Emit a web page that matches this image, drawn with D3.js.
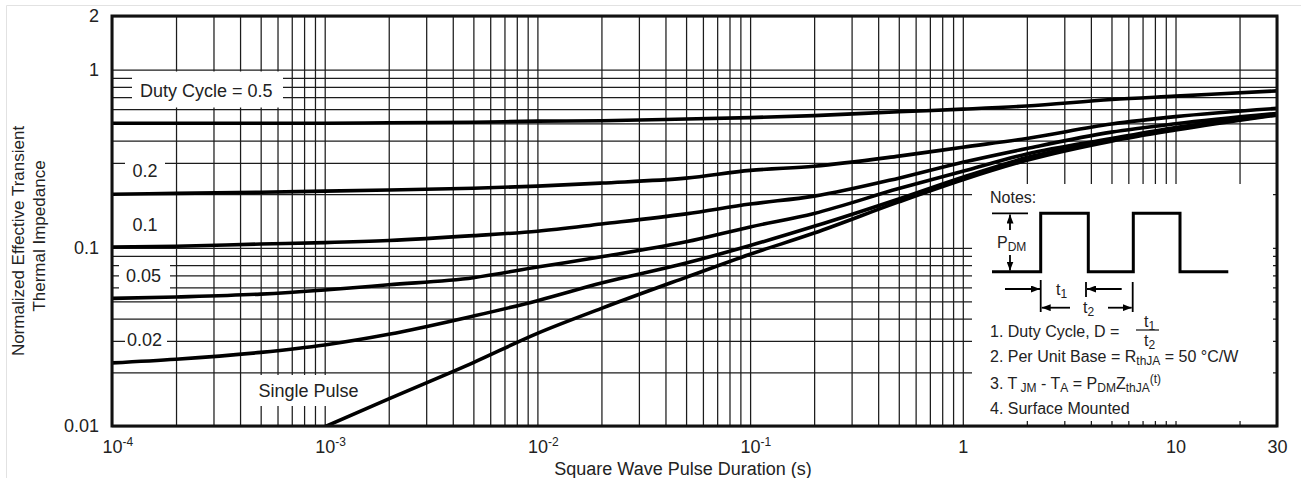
<!DOCTYPE html>
<html>
<head>
<meta charset="utf-8">
<script src="https://cdn.jsdelivr.net/npm/d3@7"></script>
<style>
  body { margin: 0; background: #fff; }
  svg text, svg tspan { font-family: "Liberation Sans", Arial, Helvetica, sans-serif; fill: #222; white-space: pre; }
</style>
</head>
<body>
<svg id="chart" width="1301" height="478"></svg>
<script>
// Pulse durations (s) read along the x axis
const pulseTimes = [1e-4, 2e-4, 5e-4, 1e-3, 2e-3, 5e-3, 1e-2, 2e-2, 5e-2, 0.1, 0.2, 0.5, 1, 2, 5, 10, 30];
// Normalized transient thermal impedance for each duty cycle
const duty05 = [0.50, 0.50, 0.50, 0.50, 0.503, 0.507, 0.514, 0.517, 0.528, 0.538, 0.552, 0.58, 0.60, 0.625, 0.68, 0.71, 0.76];
const duty02 = [0.20, 0.202, 0.205, 0.208, 0.211, 0.216, 0.222, 0.231, 0.246, 0.272, 0.287, 0.327, 0.367, 0.411, 0.495, 0.545, 0.606];
const duty01 = [0.101, 0.102, 0.105, 0.107, 0.110, 0.117, 0.124, 0.136, 0.155, 0.176, 0.195, 0.246, 0.302, 0.361, 0.446, 0.497, 0.568];
const duty005 = [0.052, 0.053, 0.055, 0.058, 0.062, 0.068, 0.078, 0.089, 0.108, 0.131, 0.156, 0.215, 0.269, 0.336, 0.41, 0.473, 0.563];
const duty002 = [0.0226, 0.0237, 0.0259, 0.0285, 0.0327, 0.0414, 0.0505, 0.0634, 0.0821, 0.103, 0.132, 0.188, 0.249, 0.321, 0.402, 0.464, 0.559];
const singleTimes = [1e-3, 2e-3, 5e-3, 1e-2, 2e-2, 5e-2, 0.1, 0.2, 0.5, 1, 2, 5, 10, 30];
const singlePulse = [0.0099, 0.0142, 0.0227, 0.0331, 0.0457, 0.0683, 0.092, 0.121, 0.181, 0.241, 0.31, 0.397, 0.458, 0.556];

const xTickValues = [1e-4, 1e-3, 1e-2, 1e-1, 1, 10, 30];
const xTickBases = ['10', '10', '10', '10', '1', '10', '30'];
const xTickExps = ['-4', '-3', '-2', '-1', '', '', ''];
const yTickValues = [0.01, 0.1, 1, 2];
const yTickLabels = ['0.01', '0.1', '1', '2'];

const svg = d3.select('#chart');
const margin = { top: 16, right: 24, bottom: 52, left: 112 };
const width = 1301 - margin.left - margin.right;
const height = 478 - margin.top - margin.bottom;

// faint frame of the original scan
svg.append('path').attr('d', 'M6.5,478V5.5H1301').attr('fill', 'none').attr('stroke', '#e2e2e2');

const g = svg.append('g').attr('transform', `translate(${margin.left},${margin.top})`);

const x = d3.scaleLog().domain([1e-4, 30]).range([0, width]);
const y = d3.scaleLog().domain([0.01, 2]).range([height, 0]);

// Grid
g.append('g')
  .attr('transform', `translate(0,${height})`)
  .call(d3.axisBottom(x).tickValues(x.ticks()).tickSize(-height).tickFormat(''))
  .call(s => s.select('.domain').remove())
  .selectAll('line').attr('stroke', '#1c1c1c').attr('stroke-width', 1.25);

g.append('g')
  .call(d3.axisLeft(y).tickValues(y.ticks()).tickSize(-width).tickFormat(''))
  .call(s => s.select('.domain').remove())
  .selectAll('line').attr('stroke', '#1c1c1c').attr('stroke-width', 1.25);

// white patches behind labels and the notes block
const patches = [
  [20, 55.5, 151, 36],
  [13, 130, 40, 40],
  [13, 196, 40, 24],
  [7, 243, 51, 34],
  [13, 311, 42, 27],
  [138, 359, 116, 31],
  [860, 168, 301, 237]
];
g.selectAll('.patch').data(patches).enter().append('rect')
  .attr('x', d => d[0]).attr('y', d => d[1]).attr('width', d => d[2]).attr('height', d => d[3])
  .attr('fill', '#fff');

// Curves
g.append('clipPath').attr('id', 'plot-clip')
  .append('rect').attr('width', width).attr('height', height);

const line = d3.line()
  .x(d => x(d[0]))
  .y(d => y(d[1]))
  .curve(d3.curveMonotoneX);

const series = [duty05, duty02, duty01, duty005, duty002].map(vals => pulseTimes.map((t, i) => [t, vals[i]]));
series.push(singleTimes.map((t, i) => [t, singlePulse[i]]));

g.append('g').attr('clip-path', 'url(#plot-clip)')
  .selectAll('path').data(series).enter().append('path')
  .attr('d', line)
  .attr('fill', 'none')
  .attr('stroke', '#000')
  .attr('stroke-width', 3.6)
  .attr('stroke-linejoin', 'round');

// Frame
g.append('rect').attr('width', width).attr('height', height)
  .attr('fill', 'none').attr('stroke', '#111').attr('stroke-width', 3);

// Axes labels
const yAxis = g.append('g')
  .call(d3.axisLeft(y).tickValues(yTickValues).tickFormat((d, i) => yTickLabels[i]).tickSize(0).tickPadding(13));
yAxis.select('.domain').remove();
yAxis.selectAll('text').style('font-size', '18px').attr('fill', '#222');

const xAxis = g.append('g')
  .attr('transform', `translate(0,${height})`)
  .call(d3.axisBottom(x).tickValues(xTickValues).tickFormat('').tickSize(0).tickPadding(14));
xAxis.select('.domain').remove();
xAxis.selectAll('.tick text').each(function(d, i) {
  const t = d3.select(this).attr('text-anchor', 'start').style('font-size', '18px').attr('fill', '#222');
  const base = t.append('tspan').text(xTickBases[i]);
  if (xTickExps[i]) t.append('tspan').attr('dy', -7).style('font-size', '12px').text(xTickExps[i]);
  t.attr('x', -base.node().getComputedTextLength() / 2);
});

svg.append('text')
  .attr('x', 683).attr('y', 474.5)
  .attr('text-anchor', 'middle')
  .style('font-size', '18px')
  .text('Square Wave Pulse Duration (s)');

svg.append('text')
  .attr('transform', 'translate(24,241) rotate(-90)')
  .attr('text-anchor', 'middle')
  .style('font-size', '17px')
  .text('Normalized Effective Transient');
svg.append('text')
  .attr('transform', 'translate(45,236) rotate(-90)')
  .attr('text-anchor', 'middle')
  .style('font-size', '17px')
  .text('Thermal Impedance');

// Curve names
const curveNames = [
  ['Duty Cycle = 0.5', 140, 96.5],
  ['0.2', 132.5, 177],
  ['0.1', 132.5, 231],
  ['0.05', 126, 282],
  ['0.02', 127, 345.5],
  ['Single Pulse', 258.5, 397]
];
svg.selectAll('.curve-name').data(curveNames).enter().append('text')
  .attr('x', d => d[1]).attr('y', d => d[2])
  .style('font-size', '18px')
  .text(d => d[0]);

// Notes
function richText(x0, y0, parts, size) {
  const t = svg.append('text').attr('x', x0).attr('y', y0).style('font-size', size + 'px').attr('fill', '#222');
  let shift = 0;
  parts.forEach(([s, k]) => {
    const target = k === 'sub' ? 3 : k === 'sup' ? -6 : 0;
    t.append('tspan').attr('dy', target - shift).attr('fill', '#222')
      .style('font-size', (k ? 12 : size) + 'px').text(s);
    shift = target;
  });
  return t;
}

svg.append('text').attr('x', 990).attr('y', 203).style('font-size', '16px').text('Notes:');

const wave = [[992, 271.7], [1040.7, 271.7], [1040.7, 213.3], [1088.3, 213.3], [1088.3, 271.7],
  [1133.3, 271.7], [1133.3, 213.3], [1180, 213.3], [1180, 271.7], [1228.3, 271.7]];
svg.append('path').attr('d', d3.line()(wave))
  .attr('fill', 'none').attr('stroke', '#000').attr('stroke-width', 3).attr('stroke-linejoin', 'miter');

svg.append('defs').append('marker')
  .attr('id', 'head').attr('markerUnits', 'userSpaceOnUse')
  .attr('markerWidth', 9).attr('markerHeight', 7).attr('refX', 9).attr('refY', 3.5).attr('orient', 'auto')
  .append('path').attr('d', 'M0,0L9,3.5L0,7Z').attr('fill', '#000');

const guides = [
  [992, 213.3, 1028, 213.3, false],
  [1010, 230, 1010, 214.5, true],
  [1010, 255, 1010, 270.5, true],
  [1005, 289, 1040, 289, true],
  [1040.7, 280, 1040.7, 312, false],
  [1086, 282, 1086, 297, false],
  [1121.7, 289, 1087, 289, true],
  [1070, 307.7, 1041.7, 307.7, true],
  [1108, 307.7, 1131.7, 307.7, true],
  [1132.7, 282, 1132.7, 312, false]
];
svg.selectAll('.guide').data(guides).enter().append('line')
  .attr('x1', d => d[0]).attr('y1', d => d[1]).attr('x2', d => d[2]).attr('y2', d => d[3])
  .attr('stroke', '#000').attr('stroke-width', 1.8)
  .attr('marker-end', d => d[4] ? 'url(#head)' : null);

richText(997, 248, [['P', ''], ['DM', 'sub']], 16);
richText(1056, 295, [['t', ''], ['1', 'sub']], 16);
richText(1083, 313, [['t', ''], ['2', 'sub']], 16);

richText(990, 337, [['1. Duty Cycle, D =', '']], 16);
richText(1144, 326.5, [['t', ''], ['1', 'sub']], 16);
svg.append('line').attr('x1', 1136).attr('x2', 1159).attr('y1', 330).attr('y2', 330)
  .attr('stroke', '#222').attr('stroke-width', 1.3);
richText(1144, 346, [['t', ''], ['2', 'sub']], 16);

richText(990, 361.5, [['2. Per Unit Base = R', ''], ['thJA', 'sub'], [' = 50 °C/W', '']], 16);
richText(990, 389, [['3. T', ''], [' JM', 'sub'], [' - T', ''], ['A', 'sub'], [' = P', ''], ['DM', 'sub'],
  ['Z', ''], ['thJA', 'sub'], ['(t)', 'sup']], 16);
richText(990, 414, [['4. Surface Mounted', '']], 16);
</script>
</body>
</html>
